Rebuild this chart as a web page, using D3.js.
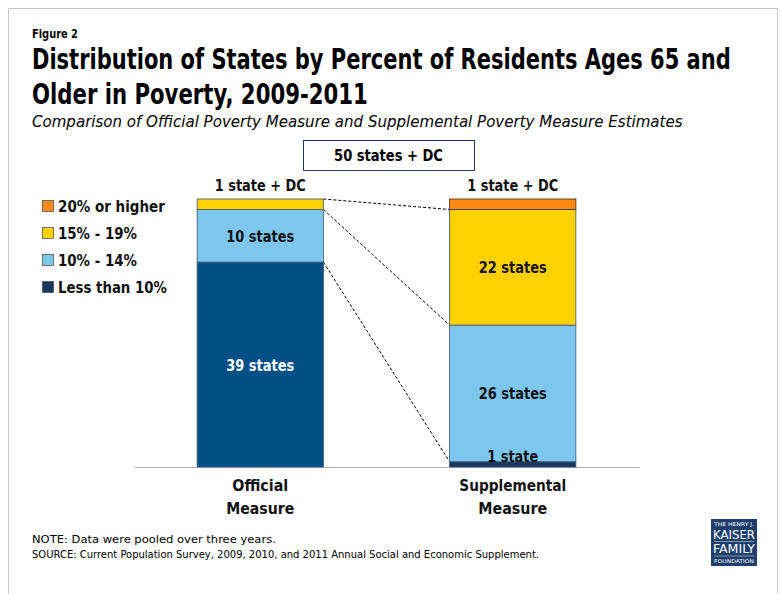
<!DOCTYPE html>
<html>
<head>
<meta charset="utf-8">
<script src="https://cdn.jsdelivr.net/npm/d3@7"></script>
<style>
  html, body { margin: 0; padding: 0; background: #fff; }
  svg { display: block; }
  text { font-family: "Liberation Sans Narrow", "DejaVu Sans Condensed", "Open Sans", sans-serif; }
</style>
</head>
<body>
<svg id="chart" width="781" height="594"></svg>
<script>
// ---------- DATA ----------
const categories = ["Official Measure", "Supplemental Measure"];
const categoryLines = [["Official", "Measure"], ["Supplemental", "Measure"]];
const seriesNames = ["Less than 10%", "10% - 14%", "15% - 19%", "20% or higher"];
const lessThan10 = [39, 1];
const pct10to14 = [10, 26];
const pct15to19 = [2, 22];
const pct20plus = [0, 2];
const labelsLessThan10 = ["39 states", "1 state"];
const labels10to14 = ["10 states", "26 states"];
const labels15to19 = ["1 state + DC", "22 states"];
const labels20plus = ["", "1 state + DC"];
const totalLabel = "50 states + DC";
const totalStates = 51;

// ---------- STYLE ----------
const seriesColors = ["#17375E", "#7DC6EE", "#FFD100", "#FF8A12"];
const officialDarkColor = "#004F87";

const svg = d3.select("#chart");

// frame
svg.append("path").attr("d", "M8.5,594 V8.5 H777.5 V594")
  .attr("fill", "none").attr("stroke", "#c8c8c8").attr("stroke-width", 1);

// place a text at (x,y) and squeeze it horizontally to the given width (narrow-font look)
function txt(parent, x, y, s, w, attrs) {
  const t = parent.append("text").attr("x", 0).attr("y", 0).text(s);
  Object.entries(attrs || {}).forEach(([k, v]) => t.attr(k, v));
  const nat = t.node().getComputedTextLength();
  const sx = nat > 0 ? w / nat : 1;
  t.attr("transform", `translate(${x},${y}) scale(${sx},1)`);
  return t;
}

// titles
txt(svg, 32, 38, "Figure 2", 46, { "font-size": 11.5, "font-weight": "bold" });
txt(svg, 32, 69, "Distribution of States by Percent of Residents Ages 65 and", 699, { "font-size": 28, "font-weight": "bold" });
txt(svg, 32, 104, "Older in Poverty, 2009-2011", 336, { "font-size": 28, "font-weight": "bold" });
txt(svg, 32, 127, "Comparison of Official Poverty Measure and Supplemental Poverty Measure Estimates", 651, { "font-size": 16, "font-style": "italic" });

// scales
const x = d3.scaleBand().domain(categories).range([134, 639]).paddingInner(0.5).paddingOuter(0.25);
const y = d3.scaleLinear().domain([0, totalStates]).range([467, 199]);

// stacked data
const table = categories.map((c, i) => ({
  category: c,
  "Less than 10%": lessThan10[i],
  "10% - 14%": pct10to14[i],
  "15% - 19%": pct15to19[i],
  "20% or higher": pct20plus[i]
}));
const labelTable = [labelsLessThan10, labels10to14, labels15to19, labels20plus];
const stacked = d3.stack().keys(seriesNames)(table);

// baseline axis
const axis = svg.append("g").attr("transform", `translate(0,${y(0)})`)
  .call(d3.axisBottom(x).tickSize(0).tickFormat(""));
axis.select(".domain").attr("stroke", "#b0b0b0").attr("stroke-width", 1.2);

// dashed connectors: official boundaries (from top) -> supplemental boundaries shifted one category
const offTops = [totalStates, totalStates - pct15to19[0], totalStates - pct15to19[0] - pct10to14[0]];
const supTops = [totalStates - pct20plus[1], totalStates - pct20plus[1] - pct15to19[1],
                 totalStates - pct20plus[1] - pct15to19[1] - pct10to14[1]];
const x0r = x(categories[0]) + x.bandwidth();
const x1l = x(categories[1]);
svg.append("g").selectAll("line").data(d3.zip(offTops, supTops)).join("line")
  .attr("x1", x0r).attr("y1", d => y(d[0]))
  .attr("x2", x1l).attr("y2", d => y(d[1]))
  .attr("stroke", "#000").attr("stroke-width", 1).attr("stroke-dasharray", "3,2");

// bars
const gBars = svg.append("g");
stacked.forEach((layer, si) => {
  gBars.selectAll(null).data(layer.filter(d => d[1] > d[0])).join("rect")
    .attr("x", d => x(d.data.category))
    .attr("width", x.bandwidth())
    .attr("y", d => y(d[1]))
    .attr("height", d => y(d[0]) - y(d[1]))
    .attr("fill", d => (si === 0 && d.data.category === categories[0]) ? officialDarkColor : seriesColors[si])
    .attr("stroke", si === 3 ? "#3a2a10" : "#3d5670")
    .attr("stroke-width", 0.8);
});

// segment labels
stacked.forEach((layer, si) => {
  layer.forEach((d, ci) => {
    const s = labelTable[si][ci];
    if (!s) return;
    const cx = x(d.data.category) + x.bandwidth() / 2;
    const h = y(d[0]) - y(d[1]);
    const isTop = d[1] === totalStates;
    let ty, fill = "#111";
    if (isTop && h < 20) { ty = y(d[1]) - 8; }           // thin top segment: label above bar
    else if (h < 20) { ty = y(d[1]) + 0.5; }             // thin bottom segment: label sits on it
    else { ty = (y(d[0]) + y(d[1])) / 2 + 6; }
    if (si === 0 && ci === 0) fill = "#fff";
    const w = s.length > 9 ? 91 : (s.length > 7 ? 68 : 51);
    txt(svg, cx, ty, s, w, { "font-size": 16, "font-weight": "bold", "fill": fill, "text-anchor": "middle" });
  });
});

// total box
const bx = 303, bw = 171;
svg.append("rect").attr("x", bx + 0.5).attr("y", 140.5).attr("width", bw).attr("height", 30)
  .attr("fill", "#fff").attr("stroke", "#1F3A60").attr("stroke-width", 1);
txt(svg, bx + bw / 2, 161, totalLabel, 109, { "font-size": 16, "font-weight": "bold", "text-anchor": "middle" });

// category labels
categories.forEach((c, i) => {
  const cx = x(c) + x.bandwidth() / 2;
  const widths = i === 0 ? [56, 68] : [107, 69];
  categoryLines[i].forEach((ln, j) => {
    txt(svg, cx, 491 + j * 23, ln, widths[j],
      { "font-size": 16.5, "font-weight": "bold", "fill": "#111", "text-anchor": "middle" });
  });
});

// legend (top to bottom: highest first)
const legendOrder = [3, 2, 1, 0];
const legendWidths = { 3: 107, 2: 79, 1: 79, 0: 109 };
const lg = svg.append("g");
legendOrder.forEach((si, k) => {
  const ly = 200 + k * 27;
  lg.append("rect").attr("x", 42.5).attr("y", ly + 0.5).attr("width", 11).attr("height", 11)
    .attr("fill", seriesColors[si]).attr("stroke", "#555").attr("stroke-width", 0.8);
  txt(lg, 58, ly + 11.5, seriesNames[si], legendWidths[si],
    { "font-size": 16, "font-weight": "bold", "fill": "#111" });
});

// notes
txt(svg, 32, 543, "NOTE: Data were pooled over three years.", 244, { "font-size": 10.5 });
txt(svg, 32, 558, "SOURCE: Current Population Survey, 2009, 2010, and 2011 Annual Social and Economic Supplement.", 508, { "font-size": 10.5 });

// logo
const logo = svg.append("g").attr("transform", "translate(711,519)");
logo.append("rect").attr("width", 46).attr("height", 47).attr("fill", "#1E3F6C");
const serif = "Liberation Serif, DejaVu Serif, serif";
txt(logo, 23, 7, "THE HENRY J.", 40, { "font-family": serif, "font-size": 5, "fill": "#fff", "text-anchor": "middle" });
txt(logo, 23, 20, "KAISER", 42, { "font-family": serif, "font-size": 13, "fill": "#fff", "text-anchor": "middle" });
logo.append("line").attr("x1", 3).attr("x2", 43).attr("y1", 22.5).attr("y2", 22.5).attr("stroke", "#c9d3e0").attr("stroke-width", 0.6);
txt(logo, 23, 34, "FAMILY", 42, { "font-family": serif, "font-size": 13, "fill": "#fff", "text-anchor": "middle" });
logo.append("line").attr("x1", 3).attr("x2", 43).attr("y1", 37).attr("y2", 37).attr("stroke", "#c9d3e0").attr("stroke-width", 0.6);
txt(logo, 23, 44, "FOUNDATION", 40, { "font-family": serif, "font-size": 5, "fill": "#fff", "text-anchor": "middle" });
</script>
</body>
</html>
